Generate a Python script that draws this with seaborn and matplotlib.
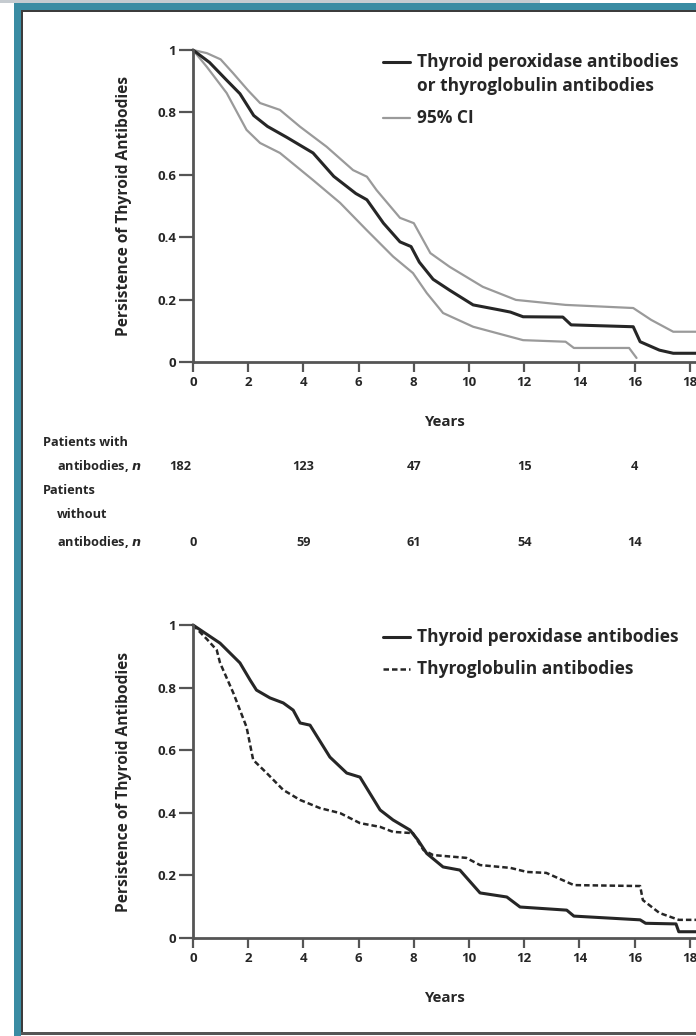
import numpy as np
import pandas as pd
import matplotlib
matplotlib.use("Agg")
import matplotlib.pyplot as plt
import seaborn as sns
from matplotlib.patches import Rectangle
from matplotlib.lines import Line2D
from matplotlib.transforms import blended_transform_factory

# ---- survival curves (years, proportion with persisting antibodies) ----
any_years = [0, 0.6, 1.2, 1.7, 2.2, 2.7, 3.4, 4.35, 5.1, 5.9, 6.3, 6.9, 7.5, 7.9,
             8.2, 8.7, 9.3, 10.15, 11.1, 11.5, 11.96, 13.4, 13.7, 15.95, 16.2,
             16.9, 17.4, 18.3]
any_surv = [1, 0.96, 0.905, 0.86, 0.79, 0.755, 0.72, 0.67, 0.595, 0.54, 0.52,
            0.445, 0.385, 0.37, 0.32, 0.265, 0.23, 0.183, 0.167, 0.16, 0.145,
            0.144, 0.119, 0.113, 0.065, 0.038, 0.028, 0.028]

ci_upper_years = [0, 0.5, 1.0, 1.45, 2.0, 2.43, 3.15, 3.88, 4.84, 5.8, 6.3, 6.65,
                  7.5, 8.0, 8.6, 9.3, 10.5, 11.7, 13.5, 15.95, 16.6, 17.4, 18.3]
ci_upper = [1, 0.99, 0.97, 0.926, 0.87, 0.83, 0.808, 0.754, 0.69, 0.615, 0.594,
            0.551, 0.462, 0.445, 0.349, 0.305, 0.241, 0.199, 0.183, 0.173, 0.135,
            0.097, 0.097]

ci_lower_years = [0, 0.5, 1.22, 1.94, 2.43, 3.15, 4.35, 5.33, 6.29, 7.25, 7.97,
                  8.47, 9.06, 10.15, 11.96, 13.5, 13.8, 15.8, 16.07]
ci_lower = [1, 0.946, 0.862, 0.744, 0.702, 0.67, 0.583, 0.51, 0.423, 0.338, 0.285,
            0.221, 0.157, 0.113, 0.07, 0.065, 0.045, 0.045, 0.013]

tpo_years = [0, 0.98, 1.7, 2.07, 2.3, 2.79, 3.27, 3.63, 3.88, 4.24, 4.96, 5.57,
             6.05, 6.78, 7.25, 7.86, 8.15, 8.47, 9.06, 9.67, 10.4, 11.37, 11.85,
             13.54, 13.8, 16.2, 16.4, 17.5, 17.6, 18.3]
tpo_surv = [1, 0.942, 0.879, 0.824, 0.792, 0.767, 0.751, 0.728, 0.687, 0.68,
            0.578, 0.527, 0.514, 0.409, 0.377, 0.345, 0.313, 0.27, 0.227, 0.217,
            0.144, 0.131, 0.099, 0.089, 0.07, 0.058, 0.047, 0.045, 0.02, 0.02]

tg_years = [0, 0.5, 0.86, 0.98, 1.46, 1.94, 2.18, 2.67, 3.27, 3.88, 4.6, 5.33,
            6.05, 6.78, 7.25, 7.97, 8.35, 8.7, 9.9, 10.4, 11.5, 12.1, 12.8, 13.8,
            16.2, 16.3, 16.9, 17.6, 18.3]
tg_surv = [1, 0.955, 0.92, 0.879, 0.783, 0.674, 0.569, 0.527, 0.473, 0.441,
           0.415, 0.399, 0.367, 0.355, 0.339, 0.335, 0.281, 0.265, 0.256, 0.233,
           0.224, 0.211, 0.208, 0.169, 0.166, 0.121, 0.08, 0.058, 0.058]

# ---- numbers at risk ----
risk_years = [0, 4, 8, 12, 16]
with_antibodies = [182, 123, 47, 15, 4]
without_antibodies = [0, 59, 61, 54, 14]

x_ticks = [0, 2, 4, 6, 8, 10, 12, 14, 16, 18]
y_ticks = [0, 0.2, 0.4, 0.6, 0.8, 1]
y_tick_labels = ["0", "0.2", "0.4", "0.6", "0.8", "1"]

top_legend = ["Thyroid peroxidase antibodies", "or thyroglobulin antibodies", "95% CI"]
bottom_legend = ["Thyroid peroxidase antibodies", "Thyroglobulin antibodies"]
y_label = "Persistence of Thyroid Antibodies"
x_label = "Years"

sns.set_theme(style="white")
plt.rcParams["font.family"] = ["Open Sans", "DejaVu Sans"]

W, H = 696, 1036
fig = plt.figure(figsize=(W / 100, H / 100), dpi=100)
fig.patch.set_facecolor("white")

DARK = "#262626"
AXC = "#555555"
CI_C = "#9a9a9a"
TEAL = "#3a8ca3"
DASH = (0, (2.2, 1.2))


def px_box(x0, y0, x1, y1):
    """Rectangle in figure fraction from pixel edges (top-left origin)."""
    return (x0 / W, 1 - y1 / H, (x1 - x0) / W, (y1 - y0) / H)


# decorative frame
for (x0, y0, x1, y1), col in [
    ((0, 0, 540, 3), "#c5cbd0"),
    ((14, 3, 696, 10), TEAL),
    ((14, 3, 21, 1036), TEAL),
    ((21, 10, 696, 12), "#3c3c3c"),
    ((21, 10, 23, 1034), "#3c3c3c"),
    ((21, 1032, 696, 1035), "#555555"),
]:
    l, b, w, h = px_box(x0, y0, x1, y1)
    fig.patches.append(Rectangle((l, b), w, h, transform=fig.transFigure,
                                 facecolor=col, edgecolor="none", zorder=5))

X0 = 193
PX_PER_YEAR = 27.6
xmax = (W - X0) / PX_PER_YEAR


def make_axes(y_top, y_zero):
    l, b, w, h = px_box(X0, y_top, W, y_zero)
    ax = fig.add_axes([l, b, w, h])
    ax.set_xlim(0, xmax)
    ax.set_ylim(0, 1)
    for s in ["top", "right"]:
        ax.spines[s].set_visible(False)
    for s in ["left", "bottom"]:
        ax.spines[s].set_color(AXC)
        ax.spines[s].set_linewidth(2)
    ax.set_xticks(x_ticks)
    ax.set_xticklabels([str(t) for t in x_ticks])
    ax.set_yticks(y_ticks)
    ax.set_yticklabels(y_tick_labels)
    ax.tick_params(axis="both", which="major", bottom=True, left=True,
                   direction="out", width=1.6, color=AXC,
                   labelsize=9.5, labelcolor=DARK)
    ax.tick_params(axis="x", length=7, pad=3)
    ax.tick_params(axis="y", length=10, pad=2)
    for lab in ax.get_xticklabels() + ax.get_yticklabels():
        lab.set_fontweight("bold")
    ax.set_ylabel(y_label, fontsize=11.2, fontweight="bold", color=DARK, labelpad=18)
    ax.set_xlabel(x_label, fontsize=10.8, fontweight="bold", color=DARK, labelpad=19)
    ax.grid(False)
    ax.set_facecolor("none")
    return ax


# ---- top panel ----
ax1 = make_axes(50, 362)
for xs, ys, col, lw in [
    (ci_upper_years, ci_upper, CI_C, 1.6),
    (ci_lower_years, ci_lower, CI_C, 1.6),
    (any_years, any_surv, DARK, 2.2),
]:
    sns.lineplot(x=xs, y=ys, ax=ax1, color=col, linewidth=lw,
                 estimator=None, sort=False, clip_on=False)

# ---- bottom panel ----
ax2 = make_axes(625, 938)
sns.lineplot(x=tpo_years, y=tpo_surv, ax=ax2, color=DARK, linewidth=2.2,
             estimator=None, sort=False, clip_on=False)
sns.lineplot(x=tg_years, y=tg_surv, ax=ax2, color=DARK, linewidth=1.8,
             linestyle=DASH, estimator=None, sort=False, clip_on=False)


# ---- legends (drawn as key line + text) ----
LEG_FS = 12.5


def legend_key(y_px, color, lw, ls="-"):
    yf = 1 - y_px / H
    fig.lines.append(Line2D([383 / W, 410 / W], [yf, yf], transform=fig.transFigure,
                            color=color, linewidth=lw, linestyle=ls))


def legend_text(y_px, text):
    fig.text(417 / W, 1 - y_px / H, text, fontsize=LEG_FS, fontweight="bold",
             color=DARK, va="center", ha="left")


legend_key(62, DARK, 2.2)
legend_text(62, top_legend[0])
legend_text(86, top_legend[1])
legend_key(118, CI_C, 1.6)
legend_text(118, top_legend[2])

legend_key(637, DARK, 2.2)
legend_text(637, bottom_legend[0])
legend_key(669, DARK, 1.8, DASH)
legend_text(669, bottom_legend[1])

# ---- numbers at risk ----
RS = 9.2


def row_label(x_px, y_px, text):
    fig.text(x_px / W, 1 - y_px / H, text, fontsize=RS, fontweight="bold",
             color=DARK, va="center", ha="left")


row_label(43, 443, "Patients with")
row_label(57, 466, "antibodies, $\\mathbfit{n}$")
row_label(43, 490, "Patients")
row_label(57, 514, "without")
row_label(57, 542, "antibodies, $\\mathbfit{n}$")

trans = blended_transform_factory(ax1.transData, fig.transFigure)
for yr, n1, n0 in zip(risk_years, with_antibodies, without_antibodies):
    dx = -0.45 if yr == 0 and n1 >= 100 else 0
    fig.text(yr + dx, 1 - 466 / H, str(n1), transform=trans, fontsize=RS,
             fontweight="bold", color=DARK, ha="center", va="center")
    fig.text(yr, 1 - 542 / H, str(n0), transform=trans, fontsize=RS,
             fontweight="bold", color=DARK, ha="center", va="center")

fig.savefig("out.png", dpi=100, facecolor="white")
